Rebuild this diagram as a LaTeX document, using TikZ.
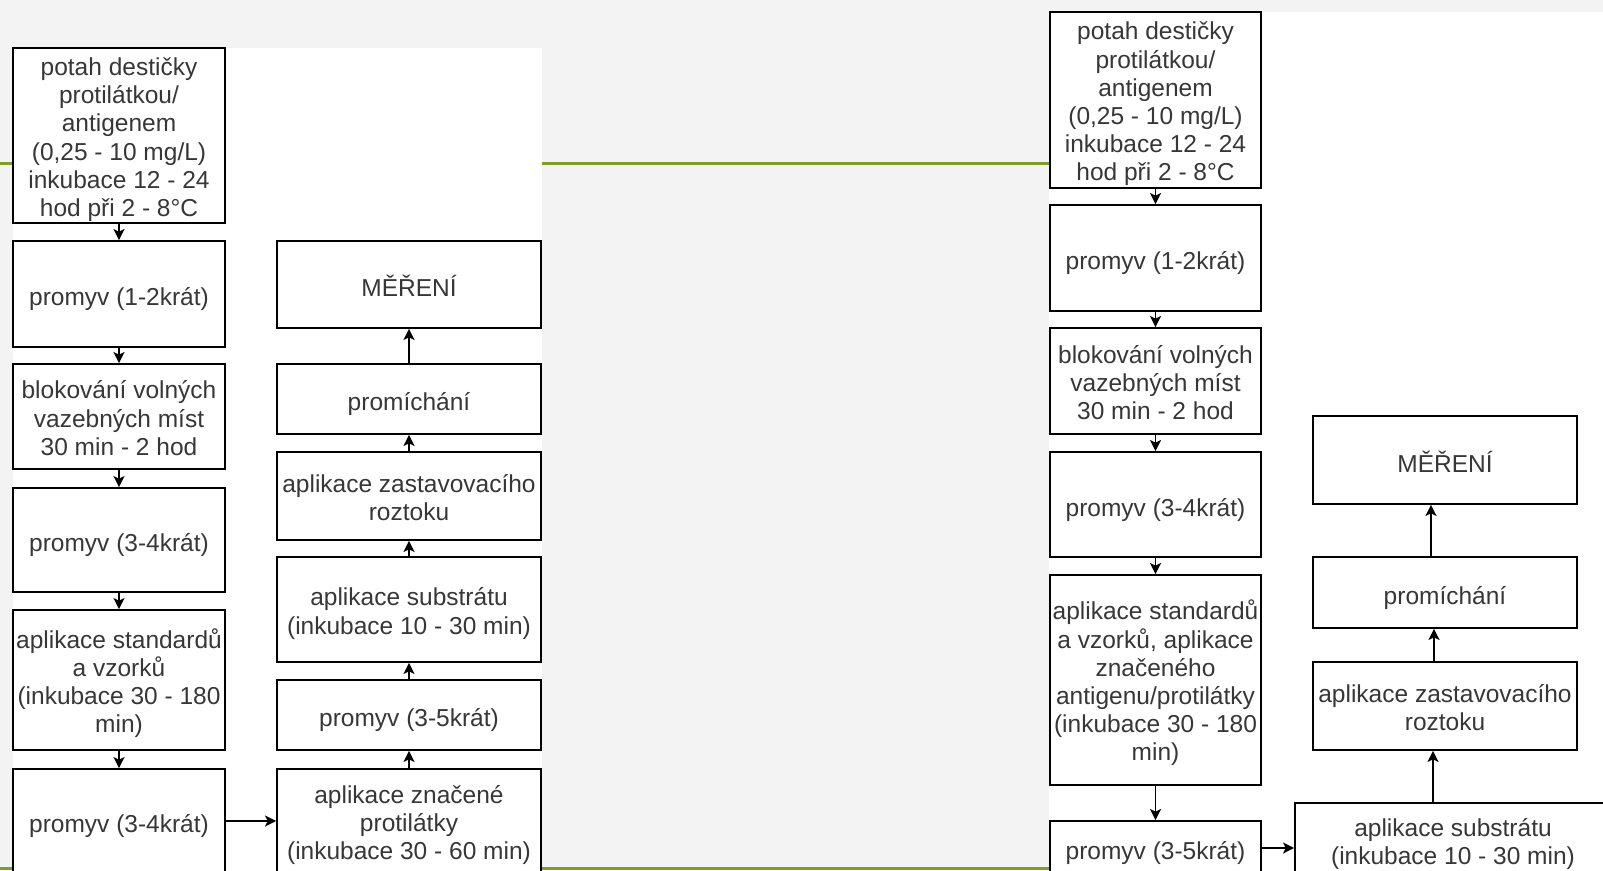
\documentclass[tikz,border=0pt]{standalone}
\usepackage{fontspec}
\setmainfont{Liberation Sans}
\usetikzlibrary{arrows.meta}
\definecolor{slidegreen}{RGB}{128,158,38}
\definecolor{slidebg}{RGB}{243,243,243}
\definecolor{boxtext}{RGB}{55,55,55}
\newcommand{\topst}{\rule{0pt}{26pt}}
\tikzset{
  box/.style={draw=black, line width=1.8pt, fill=white, align=center, text=boxtext,
    inner sep=0pt, font=\fontsize{24.5}{28.2}\selectfont,
    execute at begin node={\rule{0pt}{29pt}},
    execute at end node={\rule[-5pt]{0pt}{5pt}}},
  arr/.style={-{Stealth[length=11pt,width=11pt,inset=2.5pt]}, line width=1.8pt},
}

\begin{document}
\begin{tikzpicture}[x=1pt,y=-1pt]
		\useasboundingbox (0,0) rectangle (1603,870);
		\fill[slidebg] (0,0) rectangle (1603,870);
		\draw[slidegreen, line width=3pt] (0,163) -- (1603,163);
		\draw[slidegreen, line width=3pt] (0,868) -- (1603,868);
		\fill[white] (13,48) rectangle (542,880);
		\fill[white] (1049,12) rectangle (1610,880);

		\node[box, minimum width=212pt, minimum height=175pt] (l1) at (119,135.5) {\topst potah destičky\\protilátkou/\\antigenem\\(0,25 - 10 mg/L)\\inkubace 12 - 24\\hod při 2 - 8°C};
		\node[box, minimum width=212pt, minimum height=106pt] (l2) at (119,294) {promyv (1-2krát)};
		\node[box, minimum width=212pt, minimum height=105pt] (l3) at (119,416.5) {\topst blokování volných\\vazebných míst\\30 min - 2 hod};
		\node[box, minimum width=212pt, minimum height=104pt] (l4) at (119,540) {promyv (3-4krát)};
		\node[box, minimum width=212pt, minimum height=140pt] (l5) at (119,680) {\topst aplikace standardů\\a vzorků\\(inkubace 30 - 180\\min)};
		\node[box, minimum width=212pt, minimum height=104pt] (l6) at (119,821) {promyv (3-4krát)};

		\node[box, minimum width=264pt, minimum height=104pt] (m1) at (409,821) {\topst aplikace značené\\protilátky\\(inkubace 30 - 60 min)};
		\node[box, minimum width=264pt, minimum height=70pt] (m2) at (409,715) {promyv (3-5krát)};
		\node[box, minimum width=264pt, minimum height=105pt] (m3) at (409,609.5) {\topst aplikace substrátu\\(inkubace 10 - 30 min)};
		\node[box, minimum width=264pt, minimum height=88pt] (m4) at (409,496) {\topst aplikace zastavovacího\\roztoku};
		\node[box, minimum width=264pt, minimum height=70pt] (m5) at (409,399) {promíchání};
		\node[box, minimum width=264pt, minimum height=87pt] (m6) at (409,284.5) {MĚŘENÍ};

		\draw[arr] (l1) -- (l2);
		\draw[arr] (l2) -- (l3);
		\draw[arr] (l3) -- (l4);
		\draw[arr] (l4) -- (l5);
		\draw[arr] (l5) -- (l6);
		\draw[arr] (l6) -- (m1);
		\draw[arr] (m1) -- (m2);
		\draw[arr] (m2) -- (m3);
		\draw[arr] (m3) -- (m4);
		\draw[arr] (m4) -- (m5);
		\draw[arr] (m5) -- (m6);

		\node[box, minimum width=211pt, minimum height=176pt] (r1) at (1155.5,100) {\topst potah destičky\\protilátkou/\\antigenem\\(0,25 - 10 mg/L)\\inkubace 12 - 24\\hod při 2 - 8°C};
		\node[box, minimum width=211pt, minimum height=106pt] (r2) at (1155.5,258) {promyv (1-2krát)};
		\node[box, minimum width=211pt, minimum height=106pt] (r3) at (1155.5,381) {\topst blokování volných\\vazebných míst\\30 min - 2 hod};
		\node[box, minimum width=211pt, minimum height=105pt] (r4) at (1155.5,504.5) {promyv (3-4krát)};
		\node[box, minimum width=211pt, minimum height=210pt] (r5) at (1155.5,680) {\topst aplikace standardů\\a vzorků, aplikace\\značeného\\antigenu/protilátky\\(inkubace 30 - 180\\min)};
		\node[box, minimum width=211pt, minimum height=54pt] (r6) at (1155.5,848) {promyv (3-5krát)};

		\node[box, minimum width=316pt, minimum height=74pt] (s1) at (1453,840) {\topst aplikace substrátu\\(inkubace 10 - 30 min)};
		\node[box, minimum width=264pt, minimum height=88pt] (s2) at (1445,706) {\topst aplikace zastavovacího\\roztoku};
		\node[box, minimum width=264pt, minimum height=71pt] (s3) at (1445,592.5) {promíchání};
		\node[box, minimum width=264pt, minimum height=88pt] (s4) at (1445,460) {MĚŘENÍ};

		\draw[arr] (r1) -- (r2);
		\draw[arr] (r2) -- (r3);
		\draw[arr] (r3) -- (r4);
		\draw[arr] (r4) -- (r5);
		\draw[arr] (r5) -- (r6);
		\draw[arr] (r6) -- (s1.west |- r6);
		\draw[arr] ([xshift=-12pt]s2.south |- s1.north) -- ([xshift=-12pt]s2.south);
		\draw[arr] ([xshift=-11pt]s2.north) -- ([xshift=-11pt]s3.south);
		\draw[arr] ([xshift=-14pt]s3.north) -- ([xshift=-14pt]s4.south);
	\end{tikzpicture}
\end{document}
